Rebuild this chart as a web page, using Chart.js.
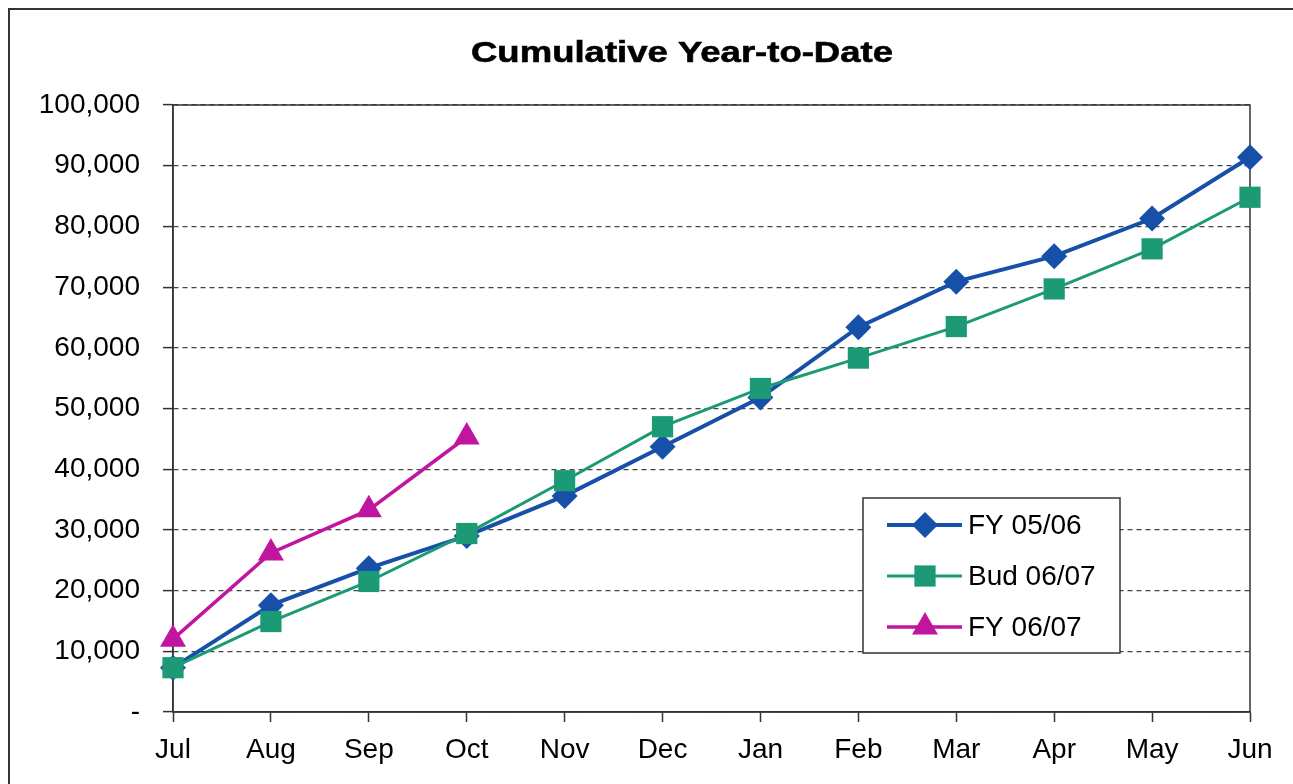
<!DOCTYPE html>
<html>
<head>
<meta charset="utf-8">
<title>Cumulative Year-to-Date</title>
<script src="https://cdn.jsdelivr.net/npm/chart.js@4/dist/chart.umd.min.js"></script>
<style>
  html, body {
    margin: 0;
    padding: 0;
    background: #fff;
    overflow: hidden;
  }
  #wrap {
    position: relative;
    width: 1293px;
    height: 784px;
  }
  #frame {
    position: absolute;
    left: 8px;
    top: 8px;
    width: 1300px;
    height: 800px;
    border: 2px solid #333;
    pointer-events: none;
  }
</style>
</head>
<body>
<div id="wrap">
  <canvas id="chart"></canvas>
  <div id="frame"></div>
</div>
<script>
// Month labels (financial year Jul - Jun)
const months = ['Jul', 'Aug', 'Sep', 'Oct', 'Nov', 'Dec', 'Jan', 'Feb', 'Mar', 'Apr', 'May', 'Jun'];

// Cumulative values
const fy0506 = [7300, 17600, 23700, 29000, 35600, 43700, 51800, 63400, 70900, 75100, 81300, 91400];
const bud0607 = [7300, 14900, 21500, 29400, 38100, 47000, 53300, 58300, 63500, 69700, 76300, 84800];
const fy0607 = [12000, 26200, 33300, 45300];

const TITLE = 'Cumulative Year-to-Date';
const FONT = "'Liberation Sans', Arial, Helvetica, sans-serif";

// Draws one marker shape (used by the legend)
function drawMarker(ctx, style, x, y, r, color) {
  ctx.save();
  ctx.fillStyle = color;
  ctx.beginPath();
  if (style === 'rectRot') {
    ctx.moveTo(x, y - r);
    ctx.lineTo(x + r, y);
    ctx.lineTo(x, y + r);
    ctx.lineTo(x - r, y);
  } else if (style === 'rect') {
    const s = r * Math.SQRT1_2;
    ctx.rect(x - s, y - s, 2 * s, 2 * s);
  } else if (style === 'triangle') {
    ctx.moveTo(x, y - r);
    ctx.lineTo(x + r * Math.sin(2 * Math.PI / 3), y + r / 2);
    ctx.lineTo(x - r * Math.sin(2 * Math.PI / 3), y + r / 2);
  }
  ctx.closePath();
  ctx.fill();
  ctx.restore();
}

// Wide bold title, like the old spreadsheet one
const wideTitle = {
  id: 'wideTitle',
  afterDraw(chart) {
    const { ctx } = chart;
    ctx.save();
    ctx.font = 'bold 30px ' + FONT;
    ctx.fillStyle = '#000';
    ctx.strokeStyle = '#000';
    ctx.lineWidth = 0.6;
    ctx.textAlign = 'center';
    ctx.textBaseline = 'alphabetic';
    const w = ctx.measureText(TITLE).width;
    ctx.translate(682, 62);
    ctx.scale(422 / w, 1);
    ctx.fillText(TITLE, 0, 0);
    ctx.strokeText(TITLE, 0, 0);
    ctx.restore();
  }
};

// Solid frame around the plot area
const plotFrame = {
  id: 'plotFrame',
  beforeDatasetsDraw(chart) {
    const { ctx, chartArea } = chart;
    ctx.save();
    ctx.strokeStyle = '#333';
    ctx.lineWidth = 1.5;
    ctx.setLineDash([]);
    ctx.strokeRect(chartArea.left, chartArea.top, chartArea.right - chartArea.left, chartArea.bottom - chartArea.top);
    ctx.restore();
  }
};

// Boxed legend sitting inside the plot, lower right
const boxLegend = {
  id: 'boxLegend',
  afterDatasetsDraw(chart) {
    const { ctx } = chart;
    const x = 863, y = 498, w = 257, h = 155;
    ctx.save();
    ctx.fillStyle = '#fff';
    ctx.fillRect(x, y, w, h);
    ctx.strokeStyle = '#333';
    ctx.lineWidth = 1.5;
    ctx.setLineDash([]);
    ctx.strokeRect(x, y, w, h);

    const rows = [525, 576, 627];
    chart.data.datasets.forEach((ds, i) => {
      const ry = rows[i];
      ctx.strokeStyle = ds.borderColor;
      ctx.lineWidth = ds.borderWidth;
      ctx.beginPath();
      ctx.moveTo(887, ry);
      ctx.lineTo(962, ry);
      ctx.stroke();
      drawMarker(ctx, ds.pointStyle, 925, ry, ds.pointRadius, ds.backgroundColor);
      ctx.fillStyle = '#000';
      ctx.font = '28px ' + FONT;
      ctx.textBaseline = 'middle';
      ctx.textAlign = 'left';
      ctx.fillText(ds.label, 968, ry + 1);
    });
    ctx.restore();
  }
};

const ctx = document.getElementById('chart').getContext('2d');

new Chart(ctx, {
  type: 'line',
  data: {
    labels: months,
    datasets: [
      {
        label: 'FY 05/06',
        data: fy0506,
        borderColor: '#1650a8',
        backgroundColor: '#1650a8',
        borderWidth: 4,
        pointStyle: 'rectRot',
        pointRadius: 13,
        pointBorderWidth: 0,
        order: 2
      },
      {
        label: 'Bud 06/07',
        data: bud0607,
        borderColor: '#1c9a76',
        backgroundColor: '#1c9a76',
        borderWidth: 3,
        pointStyle: 'rect',
        pointRadius: 15,
        pointBorderWidth: 0,
        order: 1
      },
      {
        label: 'FY 06/07',
        data: fy0607,
        borderColor: '#c0169f',
        backgroundColor: '#c0169f',
        borderWidth: 3.5,
        pointStyle: 'triangle',
        pointRadius: 15,
        pointBorderWidth: 0,
        order: 0
      }
    ]
  },
  options: {
    responsive: true,
    maintainAspectRatio: false,
    animation: false,
    layout: {
      padding: { left: 30, right: 43, top: 105, bottom: 0 }
    },
    plugins: {
      legend: { display: false },
      tooltip: { enabled: false },
      title: { display: false }
    },
    scales: {
      x: {
        offset: false,
        grid: {
          drawOnChartArea: false,
          drawTicks: true,
          tickLength: 10,
          tickColor: '#333',
          tickWidth: 1.5,
          offset: false
        },
        border: { display: true, color: '#333', width: 1.5 },
        ticks: {
          color: '#000',
          font: { family: FONT, size: 28 },
          padding: 11,
          maxRotation: 0,
          autoSkip: false
        },
        afterFit(scale) {
          scale.height = 72;
        }
      },
      y: {
        min: 0,
        max: 100000,
        grid: {
          color: '#444',
          lineWidth: 1.2,
          drawTicks: true,
          tickLength: 10,
          tickColor: '#333',
          tickWidth: 1.5,
          tickBorderDash: []
        },
        border: { display: true, color: '#333', width: 1.5, dash: [5, 4] },
        ticks: {
          stepSize: 10000,
          color: '#000',
          font: { family: FONT, size: 28 },
          padding: 23,
          callback: (v) => v === 0 ? '-' : Number(v).toLocaleString('en-US')
        },
        afterFit(scale) {
          scale.width = 143;
        }
      }
    }
  },
  plugins: [plotFrame, boxLegend, wideTitle]
});
</script>
</body>
</html>
